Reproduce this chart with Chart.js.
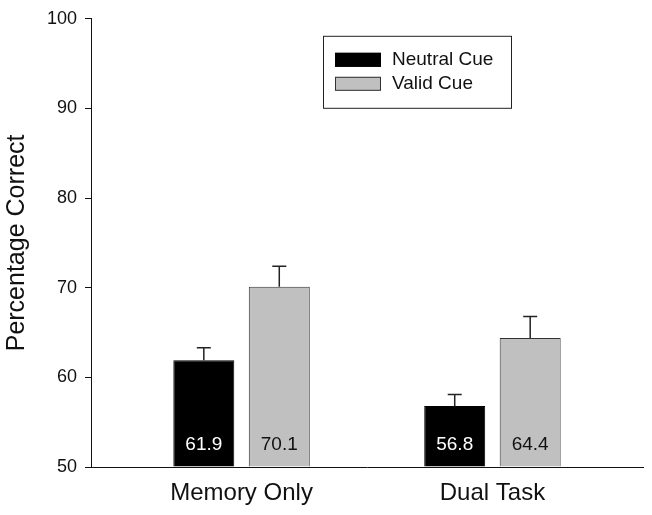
<!DOCTYPE html>
<html>
<head>
<meta charset="utf-8">
<script src="https://cdn.jsdelivr.net/npm/chart.js@4"></script>
<style>
  body { margin: 0; background: #fff; }
  canvas { display: block; }
</style>
</head>
<body>
<canvas id="myChart" width="652" height="515"></canvas>
<script>
"use strict";

// Data
const categories = ["Memory Only", "Dual Task"];
const seriesNames = ["Neutral Cue", "Valid Cue"];
const neutralCue = [61.9, 56.8];
const validCue = [70.1, 64.4];
const neutralErr = [1.4, 1.3];
const validErr = [2.3, 2.4];
const yTicks = [50, 60, 70, 80, 90, 100];

const FONT = "'Liberation Sans', Arial, sans-serif";
const fillColors = ["#000000", "#c0c0c0"];
const edgeColors = ["#000000", "#333333"];
const labelColors = ["#ffffff", "#111111"];
const errors = [neutralErr, validErr];

// error bars, only the upper half
const errorBars = {
    id: "errorBars",
    afterDatasetsDraw(chart) {
        const ctx = chart.ctx;
        const y = chart.scales.y;
        ctx.save();
        ctx.strokeStyle = "#222";
        ctx.lineWidth = 1.5;
        chart.data.datasets.forEach((ds, d) => {
            chart.getDatasetMeta(d).data.forEach((bar, i) => {
                const top = y.getPixelForValue(ds.data[i].y + errors[d][i]);
                ctx.beginPath();
                ctx.moveTo(bar.x, bar.y);
                ctx.lineTo(bar.x, top);
                ctx.moveTo(bar.x - 7, top);
                ctx.lineTo(bar.x + 7, top);
                ctx.stroke();
            });
        });
        ctx.restore();
    },
};

// value printed near the foot of each bar
const barValues = {
    id: "barValues",
    afterDatasetsDraw(chart) {
        const ctx = chart.ctx;
        const y = chart.scales.y;
        ctx.save();
        ctx.font = "19px " + FONT;
        ctx.textAlign = "center";
        ctx.textBaseline = "middle";
        chart.data.datasets.forEach((ds, d) => {
            ctx.fillStyle = labelColors[d];
            chart.getDatasetMeta(d).data.forEach((bar, i) => {
                ctx.fillText(ds.data[i].y.toFixed(1), bar.x, y.getPixelForValue(y.min) - 22);
            });
        });
        ctx.restore();
    },
};

// boxed legend inside the plot
const boxLegend = {
    id: "boxLegend",
    afterDraw(chart) {
        const ctx = chart.ctx;
        const area = chart.chartArea;
        const x0 = area.left + 232;
        const y0 = area.top + 17;
        ctx.save();
        ctx.fillStyle = "#fff";
        ctx.fillRect(x0, y0, 188, 72);
        ctx.strokeStyle = "#222";
        ctx.lineWidth = 1;
        ctx.strokeRect(x0 + 0.5, y0 + 0.5, 188, 72);
        ctx.font = "19px " + FONT;
        ctx.textBaseline = "middle";
        chart.data.datasets.forEach((ds, d) => {
            const rowY = y0 + 24 + d * 24;
            ctx.fillStyle = fillColors[d];
            ctx.fillRect(x0 + 12, rowY - 7, 46, 14);
            ctx.strokeStyle = edgeColors[d];
            ctx.strokeRect(x0 + 12.5, rowY - 6.5, 45, 13);
            ctx.fillStyle = "#111";
            ctx.fillText(ds.label, x0 + 69, rowY);
        });
        ctx.restore();
    },
};

const data = {
    datasets: [neutralCue, validCue].map((vals, d) => ({
        label: seriesNames[d],
        data: vals.map((v, i) => ({ x: i + 1, y: v })),
        backgroundColor: fillColors[d],
        borderColor: edgeColors[d],
        borderWidth: 1,
        base: yTicks[0],
        categoryPercentage: 0.6016,
        barPercentage: 0.808,
    })),
};

const config = {
    type: "bar",
    data: data,
    options: {
        responsive: false,
        animation: false,
        layout: { padding: { top: 14, right: 9, bottom: 0, left: 0 } },
        plugins: {
            legend: { display: false },
            tooltip: { enabled: false },
        },
        scales: {
            x: {
                type: "linear",
                min: 0.4,
                max: categories.length + 0.6,
                offset: false,
                afterBuildTicks: (scale) => {
                    scale.ticks = categories.map((c, i) => ({ value: i + 1 }));
                },
                afterFit: (scale) => { scale.height = 48; },
                grid: { display: false, drawTicks: false },
                border: { display: true, color: "#111", width: 1 },
                ticks: {
                    color: "#111",
                    font: { family: FONT, size: 24 },
                    padding: 12,
                    maxRotation: 0,
                    callback: (v) => categories[Math.round(v) - 1] || "",
                },
            },
            y: {
                min: yTicks[0],
                max: yTicks[yTicks.length - 1],
                beginAtZero: false,
                afterBuildTicks: (scale) => {
                    scale.ticks = yTicks.map((v) => ({ value: v }));
                },
                afterFit: (scale) => { scale.width = 91; },
                grid: {
                    display: true,
                    drawOnChartArea: false,
                    drawTicks: true,
                    tickLength: 6,
                    color: "#111",
                },
                border: { display: true, color: "#111", width: 1 },
                ticks: {
                    color: "#111",
                    font: { family: FONT, size: 18 },
                    padding: 8,
                },
                title: {
                    display: true,
                    text: "Percentage Correct",
                    color: "#111",
                    font: { family: FONT, size: 25 },
                    padding: { top: 2, bottom: 0 },
                },
            },
        },
    },
    plugins: [errorBars, barValues, boxLegend],
};

const myChart = new Chart(document.getElementById("myChart"), config);
</script>
</body>
</html>
